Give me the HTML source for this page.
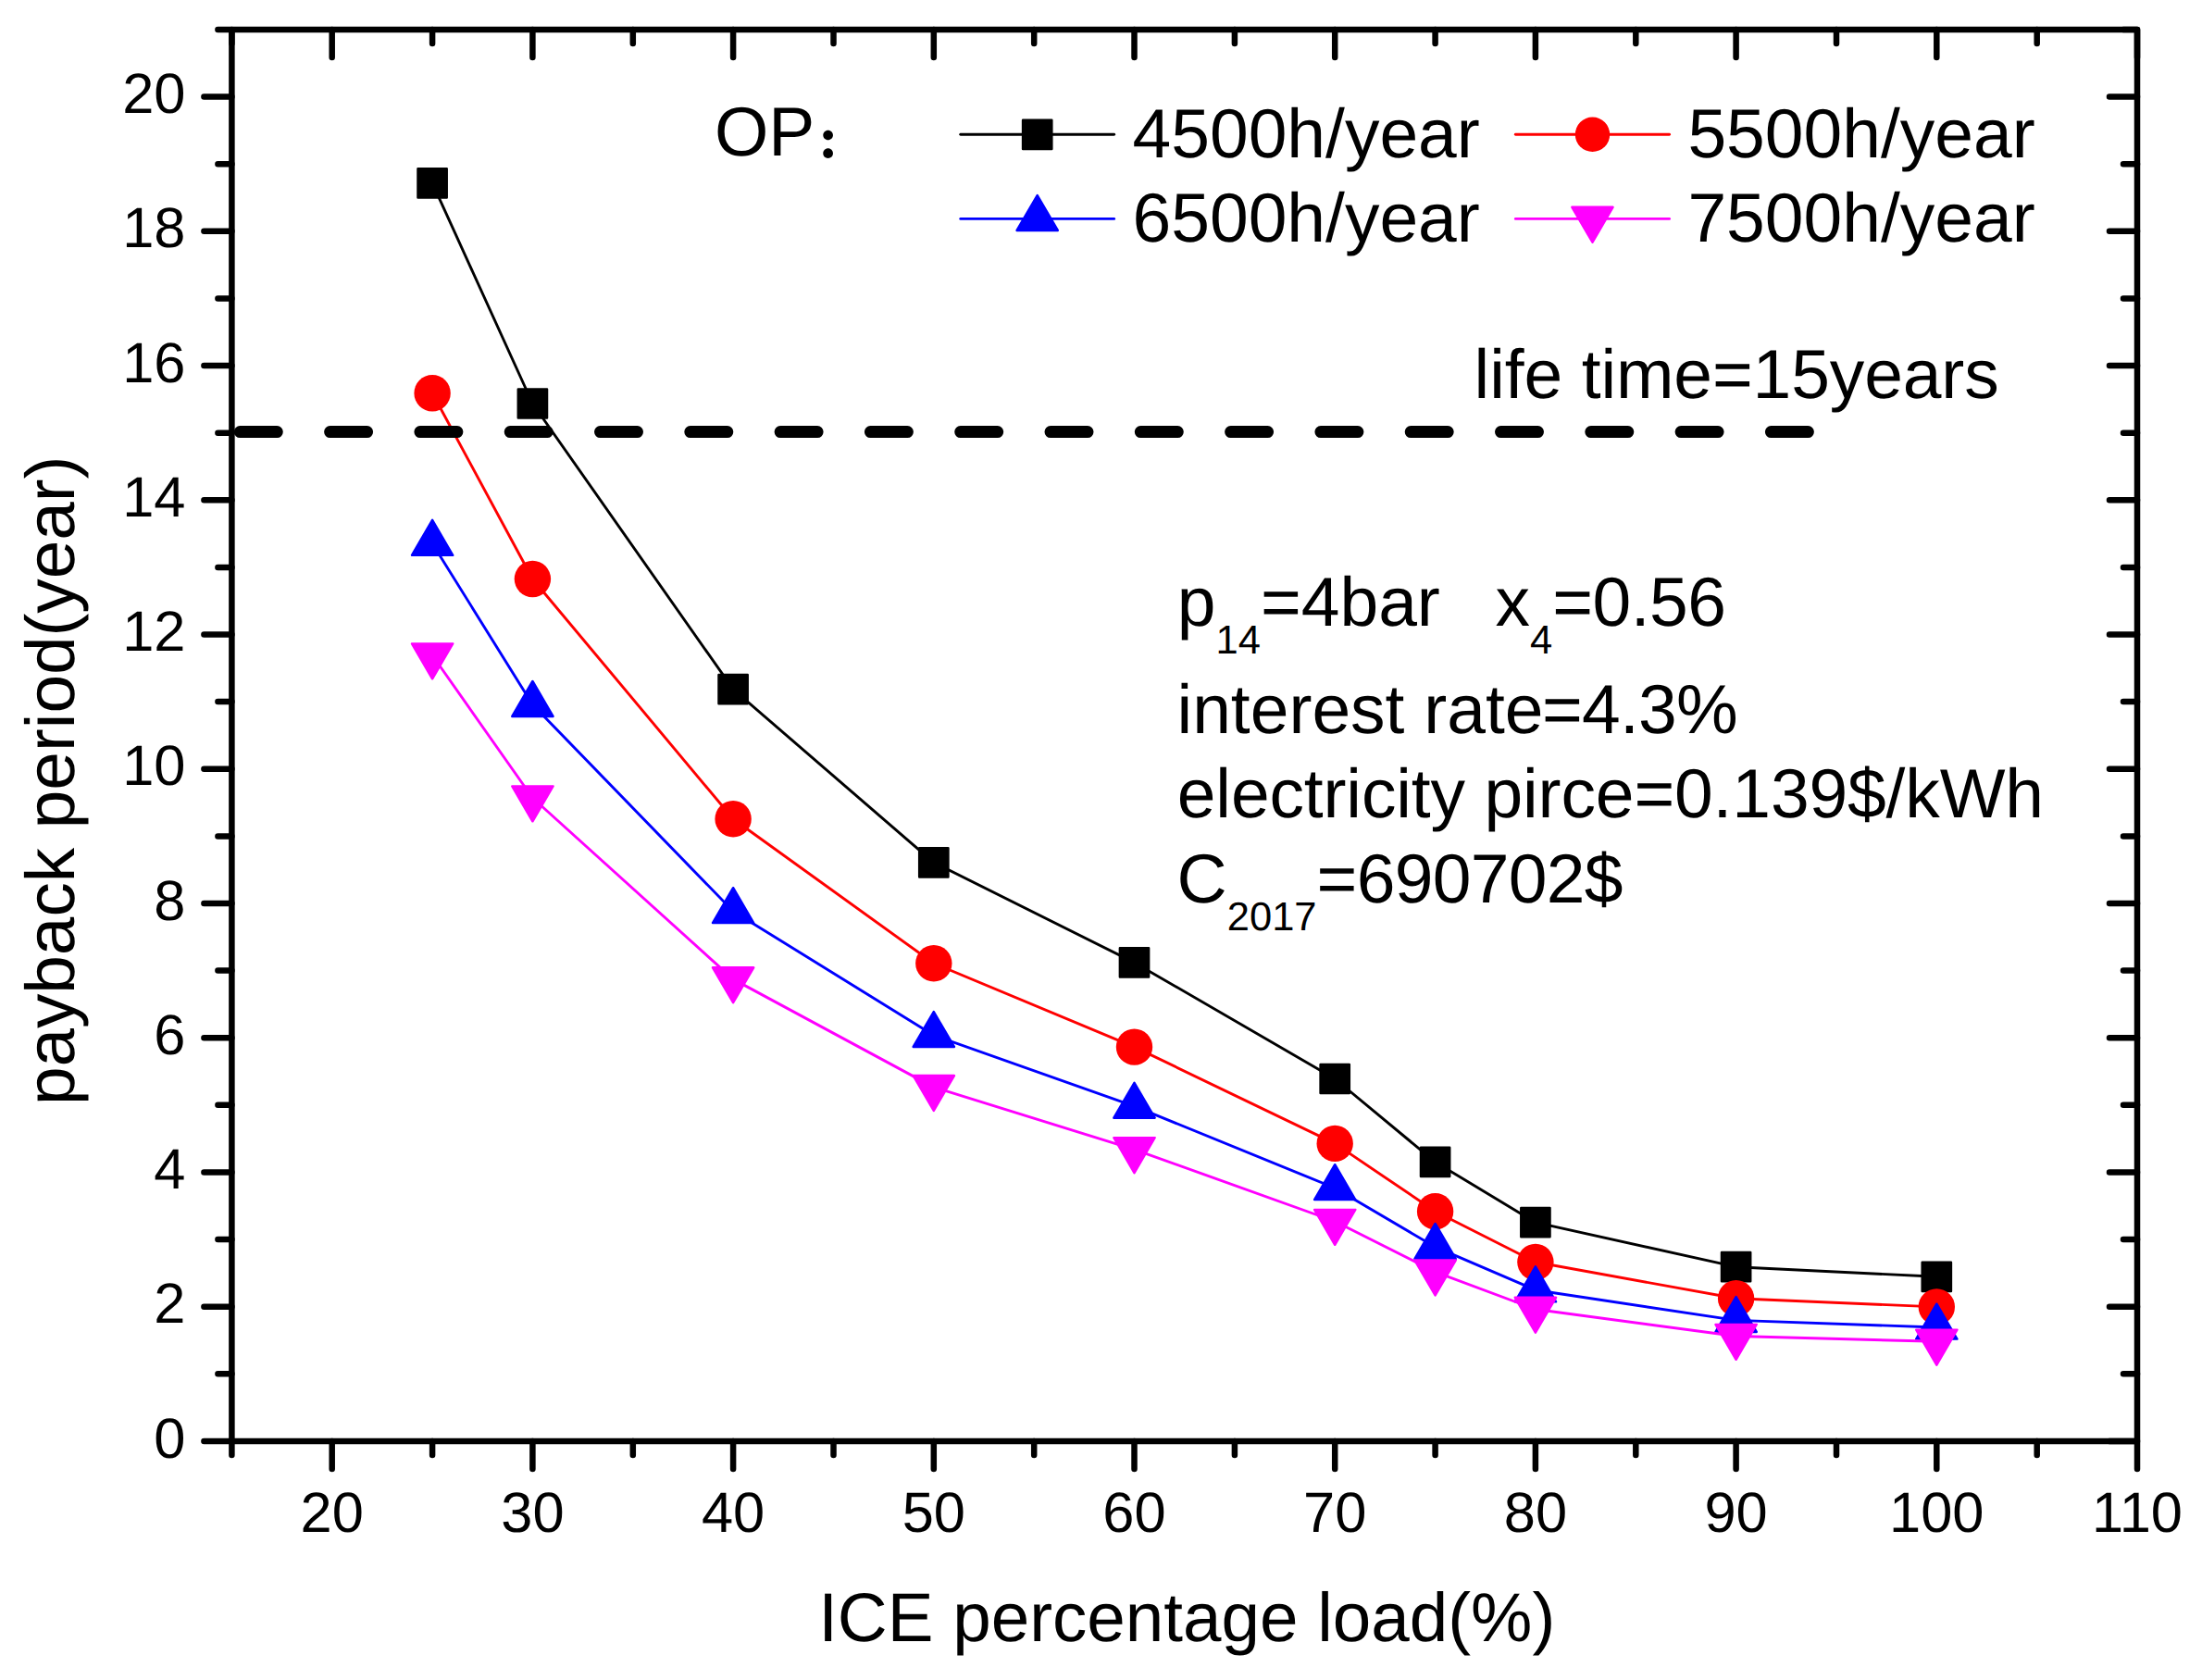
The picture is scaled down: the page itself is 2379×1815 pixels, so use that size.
<!DOCTYPE html>
<html lang="en"><head><meta charset="utf-8"><title>payback period vs ICE percentage load</title>
<style>html,body{margin:0;padding:0;background:#fff}body{width:2379px;height:1815px;overflow:hidden}svg{display:block}text{text-rendering:geometricPrecision;font-family:"Liberation Sans","Noto Sans CJK SC",sans-serif;fill:#000}</style>
</head><body>
<svg width="2379" height="1815" viewBox="0 0 2379 1815">
<rect width="2379" height="1815" fill="#fff"/>
<g stroke="#000" stroke-width="6.50" stroke-linecap="round" fill="none">
<path d="M250.4 1556.9H2309.0 M250.4 32.0H2309.0 M250.4 32.0V1556.9 M2309.0 32.0V1556.9"/>
<path d="M250.4 1556.9v15.0 M250.4 32.0v15.0 M358.7 1556.9v30.0 M358.7 32.0v30.0 M467.1 1556.9v15.0 M467.1 32.0v15.0 M575.4 1556.9v30.0 M575.4 32.0v30.0 M683.8 1556.9v15.0 M683.8 32.0v15.0 M792.1 1556.9v30.0 M792.1 32.0v30.0 M900.5 1556.9v15.0 M900.5 32.0v15.0 M1008.8 1556.9v30.0 M1008.8 32.0v30.0 M1117.2 1556.9v15.0 M1117.2 32.0v15.0 M1225.5 1556.9v30.0 M1225.5 32.0v30.0 M1333.9 1556.9v15.0 M1333.9 32.0v15.0 M1442.2 1556.9v30.0 M1442.2 32.0v30.0 M1550.6 1556.9v15.0 M1550.6 32.0v15.0 M1658.9 1556.9v30.0 M1658.9 32.0v30.0 M1767.3 1556.9v15.0 M1767.3 32.0v15.0 M1875.6 1556.9v30.0 M1875.6 32.0v30.0 M1984.0 1556.9v15.0 M1984.0 32.0v15.0 M2092.3 1556.9v30.0 M2092.3 32.0v30.0 M2200.7 1556.9v15.0 M2200.7 32.0v15.0 M2309.0 1556.9v30.0 M2309.0 32.0v30.0 M250.4 1556.9h-30.0 M2309.0 1556.9h-30.0 M250.4 1484.3h-15.0 M2309.0 1484.3h-15.0 M250.4 1411.7h-30.0 M2309.0 1411.7h-30.0 M250.4 1339.1h-15.0 M2309.0 1339.1h-15.0 M250.4 1266.4h-30.0 M2309.0 1266.4h-30.0 M250.4 1193.8h-15.0 M2309.0 1193.8h-15.0 M250.4 1121.2h-30.0 M2309.0 1121.2h-30.0 M250.4 1048.6h-15.0 M2309.0 1048.6h-15.0 M250.4 976.0h-30.0 M2309.0 976.0h-30.0 M250.4 903.4h-15.0 M2309.0 903.4h-15.0 M250.4 830.8h-30.0 M2309.0 830.8h-30.0 M250.4 758.1h-15.0 M2309.0 758.1h-15.0 M250.4 685.5h-30.0 M2309.0 685.5h-30.0 M250.4 612.9h-15.0 M2309.0 612.9h-15.0 M250.4 540.3h-30.0 M2309.0 540.3h-30.0 M250.4 467.7h-15.0 M2309.0 467.7h-15.0 M250.4 395.1h-30.0 M2309.0 395.1h-30.0 M250.4 322.5h-15.0 M2309.0 322.5h-15.0 M250.4 249.8h-30.0 M2309.0 249.8h-30.0 M250.4 177.2h-15.0 M2309.0 177.2h-15.0 M250.4 104.6h-30.0 M2309.0 104.6h-30.0 M250.4 32.0h-15.0 M2309.0 32.0h-15.0"/>
</g>
<g font-size="61.4px">
<text x="358.7" y="1654.9" text-anchor="middle">20</text>
<text x="575.4" y="1654.9" text-anchor="middle">30</text>
<text x="792.1" y="1654.9" text-anchor="middle">40</text>
<text x="1008.8" y="1654.9" text-anchor="middle">50</text>
<text x="1225.5" y="1654.9" text-anchor="middle">60</text>
<text x="1442.2" y="1654.9" text-anchor="middle">70</text>
<text x="1658.9" y="1654.9" text-anchor="middle">80</text>
<text x="1875.6" y="1654.9" text-anchor="middle">90</text>
<text x="2092.3" y="1654.9" text-anchor="middle">100</text>
<text x="2309.0" y="1654.9" text-anchor="middle">110</text>
<text x="200.5" y="1574.5" text-anchor="end">0</text>
<text x="200.5" y="1429.3" text-anchor="end">2</text>
<text x="200.5" y="1284.0" text-anchor="end">4</text>
<text x="200.5" y="1138.8" text-anchor="end">6</text>
<text x="200.5" y="993.6" text-anchor="end">8</text>
<text x="200.5" y="848.4" text-anchor="end">10</text>
<text x="200.5" y="703.1" text-anchor="end">12</text>
<text x="200.5" y="557.9" text-anchor="end">14</text>
<text x="200.5" y="412.7" text-anchor="end">16</text>
<text x="200.5" y="267.4" text-anchor="end">18</text>
<text x="200.5" y="122.2" text-anchor="end">20</text>
</g>
<text x="1282.2" y="1772.6" font-size="74.6px" text-anchor="middle">ICE percentage load(%)</text>
<text transform="translate(80.4 843.3) rotate(-90)" font-size="74.7px" text-anchor="middle">payback period(year)</text>
<polyline points="467.1,197.8 575.4,436.0 792.1,744.7 1008.8,931.8 1225.5,1039.9 1442.2,1165.5 1550.6,1255.4 1658.9,1320.7 1875.6,1368.7 2092.3,1379.3" fill="none" stroke="#000000" stroke-width="2.9" stroke-linejoin="round" stroke-linecap="round"/>
<path fill="#000000" stroke="#000000" stroke-width="2.5" stroke-linejoin="round" d="M451.5 182.2h31.2v31.2h-31.2z M559.8 420.4h31.2v31.2h-31.2z M776.5 729.1h31.2v31.2h-31.2z M993.2 916.2h31.2v31.2h-31.2z M1209.9 1024.3h31.2v31.2h-31.2z M1426.6 1149.9h31.2v31.2h-31.2z M1535.0 1239.8h31.2v31.2h-31.2z M1643.3 1305.1h31.2v31.2h-31.2z M1860.0 1353.1h31.2v31.2h-31.2z M2076.7 1363.7h31.2v31.2h-31.2z"/>
<polyline points="467.1,424.7 575.4,625.5 792.1,884.8 1008.8,1040.8 1225.5,1131.1 1442.2,1235.4 1550.6,1308.7 1658.9,1363.5 1875.6,1402.8 2092.3,1411.9" fill="none" stroke="#FF0000" stroke-width="2.9" stroke-linejoin="round" stroke-linecap="round"/>
<g fill="#FF0000"><circle cx="467.1" cy="424.7" r="19.7"/><circle cx="575.4" cy="625.5" r="19.7"/><circle cx="792.1" cy="884.8" r="19.7"/><circle cx="1008.8" cy="1040.8" r="19.7"/><circle cx="1225.5" cy="1131.1" r="19.7"/><circle cx="1442.2" cy="1235.4" r="19.7"/><circle cx="1550.6" cy="1308.7" r="19.7"/><circle cx="1658.9" cy="1363.5" r="19.7"/><circle cx="1875.6" cy="1402.8" r="19.7"/><circle cx="2092.3" cy="1411.9" r="19.7"/></g>
<polyline points="467.1,587.2 575.4,761.2 792.1,984.5 1008.8,1118.4 1225.5,1195.1 1442.2,1283.5 1550.6,1347.2 1658.9,1393.7 1875.6,1426.4 2092.3,1434.0" fill="none" stroke="#0000FF" stroke-width="2.9" stroke-linejoin="round" stroke-linecap="round"/>
<path fill="#0000FF" stroke="#0000FF" stroke-width="2.5" stroke-linejoin="round" d="M467.1 561.9L489.2 599.8H445.0z M575.4 736.0L597.5 773.9H553.3z M792.1 959.2L814.2 997.1H770.0z M1008.8 1093.1L1030.9 1131.0H986.7z M1225.5 1169.8L1247.6 1207.7H1203.4z M1442.2 1258.2L1464.3 1296.1H1420.1z M1550.6 1322.0L1572.7 1359.9H1528.5z M1658.9 1368.4L1681.0 1406.3H1636.8z M1875.6 1401.1L1897.7 1439.0H1853.5z M2092.3 1408.7L2114.4 1446.6H2070.2z"/>
<polyline points="467.1,708.0 575.4,862.0 792.1,1057.9 1008.8,1174.6 1225.5,1241.8 1442.2,1319.5 1550.6,1374.1 1658.9,1414.5 1875.6,1443.5 2092.3,1449.3" fill="none" stroke="#FF00FF" stroke-width="2.9" stroke-linejoin="round" stroke-linecap="round"/>
<path fill="#FF00FF" stroke="#FF00FF" stroke-width="2.5" stroke-linejoin="round" d="M467.1 733.3L489.2 695.4H445.0z M575.4 887.3L597.5 849.4H553.3z M792.1 1083.2L814.2 1045.3H770.0z M1008.8 1199.9L1030.9 1162.0H986.7z M1225.5 1267.1L1247.6 1229.2H1203.4z M1442.2 1344.8L1464.3 1306.9H1420.1z M1550.6 1399.4L1572.7 1361.5H1528.5z M1658.9 1439.7L1681.0 1401.8H1636.8z M1875.6 1468.8L1897.7 1430.9H1853.5z M2092.3 1474.6L2114.4 1436.7H2070.2z"/>
<path d="M259.3 466.6H1960" stroke="#000" stroke-width="13" stroke-linecap="round" stroke-dasharray="40 57.3" fill="none"/>
<path d="M1037.75 145.3H1203.65" stroke="#000000" stroke-width="2.9" stroke-linecap="round" fill="none"/>
<path fill="#000000" stroke="#000000" stroke-width="2.5" stroke-linejoin="round" d="M1105.1 129.7h31.2v31.2h-31.2z"/>
<path d="M1637.35 145.3H1803.55" stroke="#FF0000" stroke-width="2.9" stroke-linecap="round" fill="none"/>
<circle cx="1720.5" cy="145.3" r="18.7" fill="#FF0000"/>
<path d="M1037.75 236.4H1203.65" stroke="#0000FF" stroke-width="2.9" stroke-linecap="round" fill="none"/>
<path fill="#0000FF" stroke="#0000FF" stroke-width="2.5" stroke-linejoin="round" d="M1120.7 211.1L1142.8 249.0H1098.6z"/>
<path d="M1637.35 236.4H1803.55" stroke="#FF00FF" stroke-width="2.9" stroke-linecap="round" fill="none"/>
<path fill="#FF00FF" stroke="#FF00FF" stroke-width="2.5" stroke-linejoin="round" d="M1720.5 261.7L1742.5 223.8H1698.4z"/>
<g font-size="75.0px">
<text x="772" y="168.0">OP<tspan x="879.8" y="171.9" font-size="52px" font-weight="900" style="font-family:'Liberation Sans','Noto Serif CJK SC',serif">：</tspan></text>
<text x="1223.5" y="169.8">4500h/year</text>
<text x="1823.4" y="169.8">5500h/year</text>
<text x="1223.5" y="260.8">6500h/year</text>
<text x="1823.4" y="260.8">7500h/year</text>
</g>
<g font-size="75.0px">
<text x="1592.6" y="429.9" letter-spacing="-0.12">life time=15years</text>
<text x="1271.8" y="676.3">p<tspan font-size="43.5px" dy="30">14</tspan><tspan dy="-30">=4bar </tspan><tspan x="1615.5">x</tspan><tspan font-size="43.5px" dy="30">4</tspan><tspan dy="-30" letter-spacing="-0.5">=0.56</tspan></text>
<text x="1271.5" y="791.6">interest rate<tspan dx="-1.5" letter-spacing="-0.8">=4.3%</tspan></text>
<text x="1271.8" y="883.4" letter-spacing="-0.14">electricity pirce=0.139$/kWh</text>
<text x="1271.6" y="974.7">C<tspan font-size="43.5px" dy="29.8">2017</tspan><tspan dy="-29.8" letter-spacing="-0.7">=690702$</tspan></text>
</g>
</svg>
</body></html>
